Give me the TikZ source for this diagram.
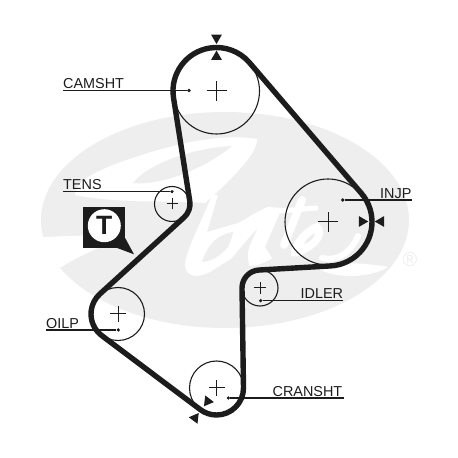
\documentclass[tikz,border=0pt]{standalone}
\usepackage{fontspec}
\setmainfont{Liberation Sans}
\usetikzlibrary{positioning,arrows.meta,shapes.geometric}
\definecolor{beltblack}{RGB}{28,28,28}
\definecolor{logogray}{RGB}{238,238,238}
\tikzset{
  pulleystyle/.style={circle, draw=beltblack, line width=1.1pt, inner sep=0pt},
  beltstyle/.style={draw=beltblack, line width=5.4pt, line join=round},
  crossstyle/.style={draw=beltblack, line width=1pt},
  labelstyle/.style={anchor=south west, inner xsep=0pt, inner ysep=1.5pt, text=beltblack,
    text depth=0pt, font=\fontsize{14.4}{16}\selectfont},
  leaderstyle/.style={draw=beltblack, line width=1.1pt},
  dotstyle/.style={circle, fill=beltblack, inner sep=0pt, minimum size=3.6pt},
  markstyle/.style={regular polygon, regular polygon sides=3, fill=beltblack, inner sep=0pt, minimum size=12.5pt},
  cutstyle/.style={draw=white, line cap=round, line join=round}
}

\begin{document}
\begin{tikzpicture}[x=1pt,y=1pt]
  \useasboundingbox (0,0) rectangle (458,458);
  % logo behind the belt, in pixel coordinates of the sheet
  \begin{scope}[yshift=458pt, y=-1pt]
    \fill[logogray] (225,220) circle[x radius=184, y radius=108];
    \fill[white] (75,195) .. controls (76,180) and (100,170) .. (118,163)
      .. controls (160,148) and (215,132) .. (257,139)
      .. controls (258,155) and (225,185) .. (205,203)
      .. controls (170,200) and (120,204) .. (75,195) -- cycle;
    \fill[logogray] (133,183) .. controls (150,162) and (195,148) .. (232,146)
      .. controls (210,165) and (165,186) .. (133,183) -- cycle;
    \fill[white] (30,238) .. controls (60,236) and (100,234) .. (125,238)
      .. controls (95,248) and (70,260) .. (48,276) -- (30,276) -- cycle;
    \fill[white] (212,195) .. controls (200,225) and (186,250) .. (185,265)
      .. controls (186,278) and (198,278) .. (210,272)
      -- (232,258) .. controls (240,248) and (250,236) .. (258,228)
      .. controls (252,240) and (248,248) .. (248,255)
      .. controls (248,262) and (249,265) .. (250,266)
      .. controls (258,266) and (266,262) .. (272,258)
      -- (265,247) -- (282,208) -- (268,207)
      .. controls (255,212) and (245,220) .. (238,223)
      -- (207,232) -- (218,195) -- cycle;
    \fill[logogray] (202,262) .. controls (205,252) and (210,245) .. (215,240)
      .. controls (220,236) and (226,233) .. (233,232)
      .. controls (232,238) and (230,243) .. (228,247)
      .. controls (222,254) and (214,261) .. (202,262) -- cycle;
    \draw[cutstyle, line width=8pt] (302,200) -- (284,245);
    \draw[cutstyle, line width=5pt] (268,212) -- (316,208);
    \fill[white] (291,250) .. controls (295,238) and (306,226) .. (317,223)
      .. controls (325,226) and (325,236) .. (318,244)
      .. controls (310,252) and (298,258) .. (291,256) -- cycle;
    \fill[logogray] (304,244) .. controls (307,238) and (311,235) .. (315,233)
      .. controls (315,238) and (309,243) .. (304,244) -- cycle;
    \draw[cutstyle, line width=6pt] (322,258) .. controls (340,262) and (352,250) .. (358,236);
    \fill[white] (315,267) .. controls (335,262) and (360,262) .. (388,267)
      .. controls (370,278) and (335,280) .. (315,267) -- cycle;
  \end{scope}
  \node[text=logogray, font=\fontsize{20}{20}\selectfont] (regmark) at (410,198) {®};

  % pulleys
  \node[pulleystyle, minimum size=86pt] (cam) at (216.5,367) {};
  \node[pulleystyle, minimum size=86pt] (injp) at (328,236) {};
  \node[pulleystyle, minimum size=36pt] (idler) at (260,170) {};
  \node[pulleystyle, minimum size=54pt] (crank) at (216.5,70) {};
  \node[pulleystyle, minimum size=53pt] (oil) at (118,144) {};
  \node[pulleystyle, minimum size=35pt] (tens) at (172,254) {};
  \foreach \n/\s in {cam/10,injp/10,idler/6,crank/8,oil/8,tens/5.5}{
    \draw[crossstyle] ([xshift=-\s pt]\n.center) -- ([xshift=\s pt]\n.center);
    \draw[crossstyle] ([yshift=-\s pt]\n.center) -- ([yshift=\s pt]\n.center);
  }

  % belt
  \draw[beltstyle] ([shift={(188.9:43.5)}]cam.center) arc[start angle=188.9, end angle=40.4, radius=43.5]
    -- ([shift={(40.4:44)}]injp.center) arc[start angle=40.4, end angle=-86.8, radius=44]
    -- ([shift={(93.2:18)}]idler.center) arc[start angle=93.2, end angle=180, radius=18]
    -- ([shift={(0:27)}]crank.center) arc[start angle=0, end angle=-126.9, radius=27]
    -- ([shift={(233.1:27)}]oil.center) arc[start angle=233.1, end angle=132.3, radius=27]
    -- ([shift={(-47.7:18)}]tens.center) arc[start angle=-47.7, end angle=8.9, radius=18]
    -- cycle;

  % labels and leaders
  \node[dotstyle] (camdot) at (189,367.5) {};
  \node[dotstyle] (tensdot) at (172,266.3) {};
  \node[dotstyle] (injpdot) at (342.7,258) {};
  \node[dotstyle] (idlerdot) at (260.7,157.3) {};
  \node[dotstyle] (crankdot) at (228.3,60) {};
  \node[dotstyle] (oildot) at (118.3,128) {};
  \node[labelstyle] (camlabel) at (63,367.5) {CAMSHT};
  \node[labelstyle] (tenslabel) at (63,266.3) {TENS};
  \node[labelstyle] (injplabel) at (380,258) {INJP};
  \node[labelstyle] (idlerlabel) at (300.5,157.3) {IDLER};
  \node[labelstyle] (cranklabel) at (272.5,60) {CRANSHT};
  \node[labelstyle] (oillabel) at (46,128) {OILP};
  \draw[leaderstyle] (camlabel.south west) -- (camdot);
  \draw[leaderstyle] (tenslabel.south west) -- (tensdot);
  \draw[leaderstyle] (injplabel.south east) -- (injpdot);
  \draw[leaderstyle] (idlerlabel.south east) -- (idlerdot);
  \draw[leaderstyle] ([xshift=71.5pt]cranklabel.south west) -- (crankdot);
  \draw[leaderstyle] (oillabel.south west) -- (oildot);

  % timing marks
  \node[markstyle, rotate=180] (camup) at (216.5,420.2) {};
  \node[markstyle] (camdown) at (216.5,401.2) {};
  \node[markstyle, rotate=-90] (injpin) at (362,236.5) {};
  \node[markstyle, rotate=90] (injpout) at (381,236.5) {};
  \node[markstyle, rotate=143] (crankin) at (207.7,56.7) {};
  \node[markstyle, rotate=-37] (crankout) at (195,40) {};

  % tensioner sign
  \node[fill=beltblack, inner sep=0pt, minimum width=41.7pt, minimum height=41pt] (sign) at (104.2,230.8) {};
  \coordinate (signtip) at (134,203.7);
  \fill[beltblack] ([yshift=9.7pt]sign.south east) -- (signtip) -- ([xshift=-8.3pt]sign.south east) -- cycle;
  \node[circle, fill=white, inner sep=0pt, minimum size=33pt, font=\fontsize{26.5}{26.5}\selectfont\bfseries, text=beltblack] (signt) at (104.3,232.3) {T};
\end{tikzpicture}
\end{document}
